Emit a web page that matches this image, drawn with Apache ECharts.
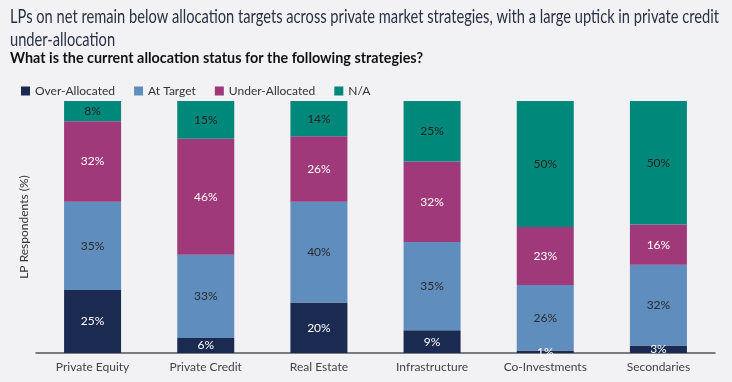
<!DOCTYPE html>
<html><head><meta charset="utf-8">
<script src="https://cdn.jsdelivr.net/npm/echarts@6/dist/echarts.min.js"></script>
<style>html,body{margin:0;padding:0;background:#f2f2f4}#c{width:732px;height:382px}</style>
</head><body><div id="c"></div>
<script>
const categories = ["Private Equity","Private Credit","Real Estate","Infrastructure","Co-Investments","Secondaries"];
const overAllocated = [25, 6, 20, 9, 1, 3];
const atTarget = [35, 33, 40, 35, 26, 32];
const underAllocated = [32, 46, 26, 32, 23, 16];
const notApplicable = [8, 15, 14, 25, 50, 50];
const seriesNames = ["Over-Allocated","At Target","Under-Allocated","N/A"];
const titleLine1 = 'LPs on net remain below allocation targets across private market strategies, with a large uptick in private credit';
const titleLine2 = 'under-allocation';
const subtitle = 'What is the current allocation status for the following strategies?';
const colors = ["#1b2a50","#5f8dbd","#a0397a","#00897b"];
const labelColors = ["#ffffff","#2b2b2b","#ffffff","#1f1f1f"];
const values = [overAllocated, atTarget, underAllocated, notApplicable];

const ctx = document.createElement('canvas').getContext('2d');
function measure(font, txt) { ctx.font = font; return ctx.measureText(txt).width; }
const titleFont = '20px Lato';
const subFont = 'bold 15px Lato';
const titleScale = 709 / measure(titleFont, titleLine1);
const subScale = 413 / measure(subFont, subtitle);

const chart = echarts.init(document.getElementById('c'));
chart.setOption({
  backgroundColor: '#f2f2f4',
  animation: false,
  graphic: [
    {type: 'text', x: 10, y: 7, scaleX: titleScale, style: {text: titleLine1, font: titleFont, fill: '#2a3045'}},
    {type: 'text', x: 10, y: 30, scaleX: titleScale, style: {text: titleLine2, font: titleFont, fill: '#2a3045'}},
    {type: 'text', x: 10, y: 51, scaleX: subScale, style: {text: subtitle, font: subFont, fill: '#111'}}
  ],
  legend: {
    left: 16, top: 80, itemWidth: 9, itemHeight: 9, itemGap: 19, icon: 'rect',
    textStyle: {fontFamily: 'Lato', fontSize: 12, color: '#333'},
    data: seriesNames
  },
  grid: {left: 36, right: 17, top: 101, bottom: 29},
  xAxis: {
    type: 'category', data: categories,
    axisLine: {lineStyle: {color: '#555', width: 1.5}},
    axisTick: {show: false},
    axisLabel: {fontFamily: 'Lato', fontSize: 12, color: '#444', margin: 8}
  },
  yAxis: {
    type: 'value', min: 0, max: 100,
    axisLine: {show: false}, axisTick: {show: false}, axisLabel: {show: false}, splitLine: {show: false},
    name: 'LP Respondents (%)', nameLocation: 'middle', nameGap: 6, nameRotate: 90,
    nameTextStyle: {fontFamily: 'Lato', fontSize: 12, color: '#333'}
  },
  series: seriesNames.map((n, i) => ({
    name: n, type: 'bar', stack: 'a', barWidth: 57,
    itemStyle: {color: colors[i]},
    label: {show: true, position: 'inside', formatter: '{c}%', fontFamily: 'Lato', fontSize: 12, color: labelColors[i]},
    data: values[i]
  }))
});
</script></body></html>
